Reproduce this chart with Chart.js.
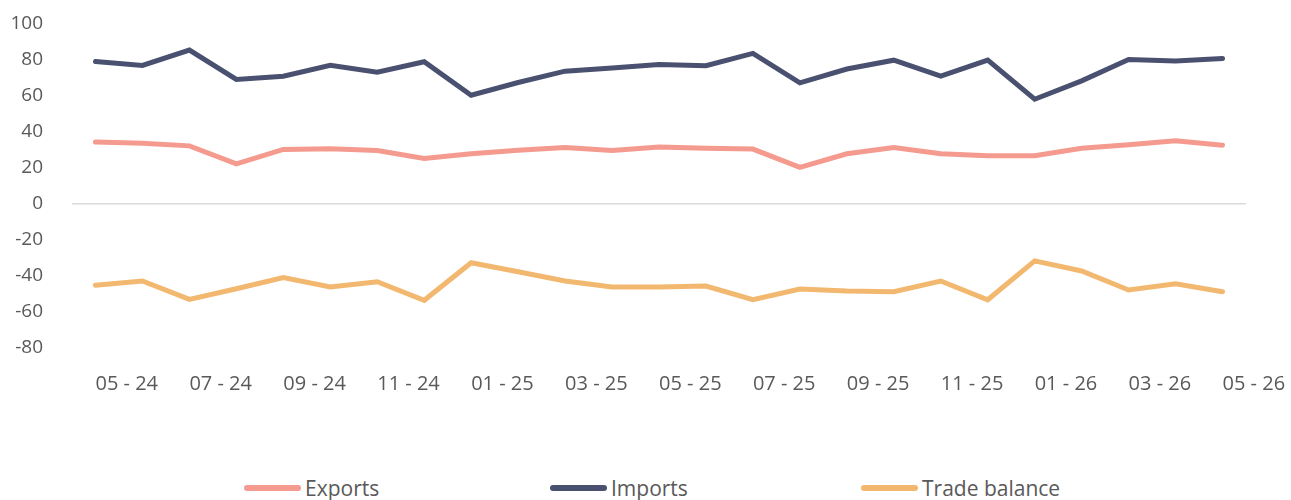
<!DOCTYPE html>
<html>
<head>
<meta charset="utf-8">
<script src="https://cdn.jsdelivr.net/npm/chart.js@4/dist/chart.umd.min.js"></script>
<style>
    html, body { margin: 0; padding: 0; background: #fff; }
    #wrap { position: relative; width: 1291px; height: 500px; font-family: 'Open Sans', sans-serif; }
    #chart-box { position: absolute; left: 0; top: 0; width: 1291px; height: 420px; }
    .legend-item { position: absolute; top: 475px; display: flex; align-items: center; color: #595959; font-size: 21px; line-height: 26px; }
    .legend-item .swatch { display: inline-block; width: 57px; height: 6px; border-radius: 3px; margin-right: 4px; }
</style>
</head>
<body>
<div id="wrap">
    <div id="chart-box"><canvas id="trade-chart"></canvas></div>
    <div id="legend"></div>
</div>
<script>
// Monthly categories (every second one is labelled on the axis)
const months = ['05 - 24', '06 - 24', '07 - 24', '08 - 24', '09 - 24', '10 - 24', '11 - 24', '12 - 24',
    '01 - 25', '02 - 25', '03 - 25', '04 - 25', '05 - 25', '06 - 25', '07 - 25', '08 - 25', '09 - 25',
    '10 - 25', '11 - 25', '12 - 25', '01 - 26', '02 - 26', '03 - 26', '04 - 26', '05 - 26'];

const exportsData = [34.4, 33.8, 32.3, 22.3, 30.3, 30.7, 29.7, 25.3, 27.9, 29.9, 31.4, 29.7, 31.6,
    31.0, 30.5, 20.4, 27.9, 31.4, 27.9, 26.8, 26.8, 31.0, 32.9, 35.1, 32.7];
const importsData = [79.2, 77.0, 85.5, 69.2, 71.0, 77.0, 73.2, 79.0, 60.4, 67.5, 73.8, 75.6, 77.5,
    76.8, 83.7, 67.3, 75.0, 79.9, 71.0, 79.9, 58.2, 68.4, 80.3, 79.4, 80.9];
const balanceData = [-45.2, -42.8, -53.0, -47.1, -40.9, -46.1, -43.2, -53.5, -32.6, -37.6, -42.8, -46.1, -46.1,
    -45.6, -53.2, -47.2, -48.4, -48.7, -42.8, -53.2, -31.6, -37.2, -47.8, -44.3, -48.7];

const seriesNames = ['Exports', 'Imports', 'Trade balance'];
const seriesColors = ['#f59a8e', '#4a5170', '#f3b86f'];

const yMin = -80;
const yMax = 100;
const yStep = 20;

const textColor = '#595959';

document.addEventListener('DOMContentLoaded', function() {
    const ctx = document.getElementById('trade-chart').getContext('2d');
    const allSeries = [exportsData, importsData, balanceData];

    new Chart(ctx, {
        type: 'line',
        data: {
            labels: months,
            datasets: allSeries.map(function(values, i) {
                return {
                    label: seriesNames[i],
                    data: values,
                    borderColor: seriesColors[i],
                    backgroundColor: seriesColors[i],
                    borderWidth: 5,
                    borderCapStyle: 'round',
                    borderJoinStyle: 'miter',
                    pointRadius: 0,
                    tension: 0,
                    fill: false
                };
            })
        },
        options: {
            responsive: true,
            maintainAspectRatio: false,
            animation: false,
            layout: {
                padding: { top: 24, right: 45, bottom: 0, left: 10 }
            },
            plugins: {
                legend: { display: false },
                tooltip: { enabled: false }
            },
            scales: {
                x: {
                    offset: true,
                    grid: { display: false, drawTicks: false },
                    border: { display: false },
                    afterFit: function(scale) {
                        // labels are start-aligned, let the last one hang into the right margin
                        scale.paddingLeft = 0;
                        scale.paddingRight = 0;
                    },
                    ticks: {
                        autoSkip: false,
                        maxRotation: 0,
                        align: 'start',
                        padding: 24,
                        color: textColor,
                        font: { family: 'Open Sans', size: 20 },
                        callback: function(val, i) {
                            return i % 2 === 0 ? this.getLabelForValue(val) : '';
                        }
                    }
                },
                y: {
                    min: yMin,
                    max: yMax,
                    afterFit: function(scale) {
                        scale.width = 62;
                        scale.paddingTop = 0;
                        scale.paddingBottom = 0;
                    },
                    grid: {
                        drawTicks: false,
                        lineWidth: 1.5,
                        color: function(c) {
                            return c.tick && c.tick.value === 0 ? '#d9d9d9' : 'rgba(0,0,0,0)';
                        }
                    },
                    border: { display: false },
                    ticks: {
                        stepSize: yStep,
                        padding: 29,
                        color: textColor,
                        font: { family: 'Open Sans', size: 19 }
                    }
                }
            }
        }
    });

    // Legend below the chart
    const legendEl = document.getElementById('legend');
    const legendLeft = [244, 550, 861];
    seriesNames.forEach(function(name, i) {
        const item = document.createElement('div');
        item.className = 'legend-item';
        item.style.left = legendLeft[i] + 'px';
        const swatch = document.createElement('span');
        swatch.className = 'swatch';
        swatch.style.background = seriesColors[i];
        item.appendChild(swatch);
        item.appendChild(document.createTextNode(name));
        legendEl.appendChild(item);
    });
});
</script>
</body>
</html>
